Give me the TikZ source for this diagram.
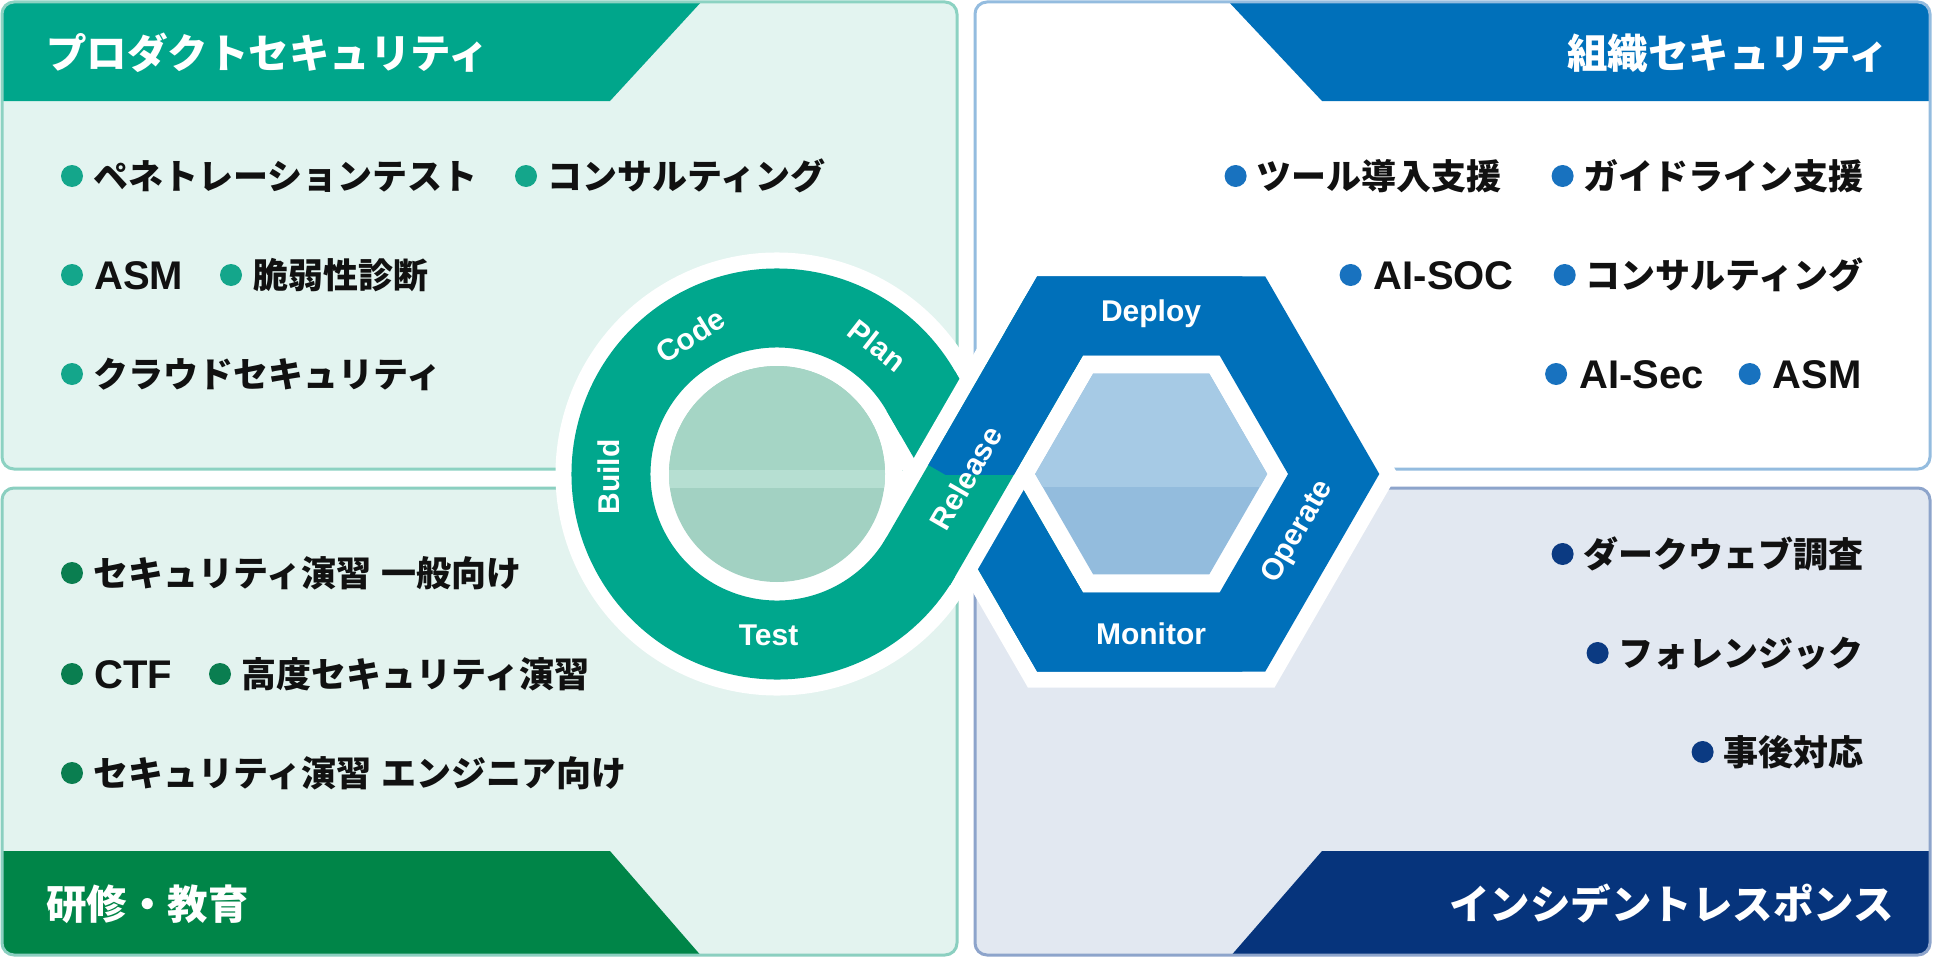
\documentclass[tikz,border=0pt]{standalone}
\usepackage{fontspec}
\setmainfont{Liberation Sans}
\newfontfamily\jp{Noto Sans CJK JP}
\usetikzlibrary{calc}
\definecolor{ringgreen}{HTML}{00A78D}
\definecolor{hexblue}{HTML}{0070BA}
\definecolor{tlhead}{HTML}{00A68B}
\definecolor{trhead}{HTML}{0070BA}
\definecolor{blhead}{HTML}{008548}
\definecolor{brhead}{HTML}{06347C}
\definecolor{tlfill}{HTML}{E3F4F0}
\definecolor{tlborder}{HTML}{8CD2C2}
\definecolor{blfill}{HTML}{E3F3EF}
\definecolor{blborder}{HTML}{8BCFC0}
\definecolor{trborder}{HTML}{94BCDF}
\definecolor{brfill}{HTML}{E2E8F1}
\definecolor{brborder}{HTML}{8DA4CB}
\definecolor{tldot}{HTML}{14A68B}
\definecolor{trdot}{HTML}{1872BF}
\definecolor{bldot}{HTML}{0A7E50}
\definecolor{brdot}{HTML}{0B3A82}
\definecolor{dischi}{HTML}{A5D5C5}
\definecolor{discband}{HTML}{B6DFD2}
\definecolor{disclo}{HTML}{A2D1C2}
\definecolor{hexhi}{HTML}{A6CAE5}
\definecolor{hexlo}{HTML}{93BCDD}
\definecolor{textc}{HTML}{111111}
\begin{document}
\begin{tikzpicture}[x=1pt,y=1pt,line join=miter,
  panelbox/.style={rounded corners=12pt,line width=3pt},
  band/.style={line width=79pt},
  outline/.style={white,line width=111pt},
  lbl/.style={text=white,font=\bfseries\fontsize{30}{30}\selectfont,inner sep=0pt},
  ttl/.style={text=white,font=\jp\bfseries\fontsize{40.5}{40.5}\selectfont,inner sep=0pt},
  jpitem/.style={text=textc,font=\jp\bfseries\fontsize{35}{35}\selectfont,inner sep=0pt},
  enitem/.style={text=textc,font=\bfseries\fontsize{40}{40}\selectfont,inner sep=0pt},
  dot/.style={circle,minimum size=22pt,inner sep=0pt,fill=#1}]
\useasboundingbox (0,0) rectangle (1933,-958);
\fill[white] (0,0) rectangle (1933,-958);

% ---------- panels ----------
% top left
\fill[tlfill,rounded corners=12pt] (2,-2) rectangle (957,-469);
\begin{scope}
  \clip[rounded corners=12pt] (2,-2) rectangle (957,-469);
  \fill[tlhead] (0,0) -- (703,0) -- (610,-101) -- (0,-101) -- cycle;
\end{scope}
\draw[panelbox,draw=tlborder] (2,-2) rectangle (957,-469);
% top right
\fill[white,rounded corners=12pt] (975,-2) rectangle (1930,-469);
\begin{scope}
  \clip[rounded corners=12pt] (975,-2) rectangle (1930,-469);
  \fill[trhead] (1227,0) -- (1933,0) -- (1933,-101) -- (1322,-101) -- cycle;
\end{scope}
\draw[panelbox,draw=trborder] (975,-2) rectangle (1930,-469);
% bottom left
\fill[blfill,rounded corners=12pt] (2,-488) rectangle (957,-955);
\begin{scope}
  \clip[rounded corners=12pt] (2,-488) rectangle (957,-955);
  \fill[blhead] (0,-851) -- (610,-851) -- (703,-958) -- (0,-958) -- cycle;
\end{scope}
\draw[panelbox,draw=blborder] (2,-488) rectangle (957,-955);
% bottom right
\fill[brfill,rounded corners=12pt] (975,-488) rectangle (1930,-955);
\begin{scope}
  \clip[rounded corners=12pt] (975,-488) rectangle (1930,-955);
  \fill[brhead] (1322,-851) -- (1933,-851) -- (1933,-958) -- (1229,-958) -- cycle;
\end{scope}
\draw[panelbox,draw=brborder] (975,-488) rectangle (1930,-955);

% ---------- titles ----------
\node[ttl,anchor=base west] (tTL) at (46,-68.5) {プロダクトセキュリティ};
\node[ttl,anchor=base east] (tTR) at (1889,-68.5) {組織セキュリティ};
\node[ttl,anchor=base west] (tBL) at (46,-919.5) {研修・教育};
\node[ttl,anchor=base east] (tBR) at (1894,-919.5) {インシデントレスポンス};

% ---------- top-left items ----------
\node[jpitem,anchor=base west] (a1) at (93,-189) {ペネトレーションテスト};
\node[dot=tldot] (a1d) at (72,-176) {};
\node[jpitem,anchor=base west] (a2) at (547,-189) {コンサルティング};
\node[dot=tldot] (a2d) at (526,-176) {};
\node[enitem,anchor=base west] (a3) at (94,-289) {ASM};
\node[dot=tldot] (a3d) at (72,-275) {};
\node[jpitem,anchor=base west] (a4) at (253,-288) {脆弱性診断};
\node[dot=tldot] (a4d) at (231,-275) {};
\node[jpitem,anchor=base west] (a5) at (93,-387) {クラウドセキュリティ};
\node[dot=tldot] (a5d) at (72,-374) {};

% ---------- top-right items ----------
\node[jpitem,anchor=base east] (b1) at (1502,-189) {ツール導入支援};
\node[dot=trdot] (b1d) at ($(b1.base west)+(-21,13)$) {};
\node[jpitem,anchor=base east] (b2) at (1864,-189) {ガイドライン支援};
\node[dot=trdot] (b2d) at ($(b2.base west)+(-21,13)$) {};
\node[enitem,anchor=base east] (b3) at (1514,-289) {AI-SOC};
\node[dot=trdot] (b3d) at ($(b3.base west)+(-23,14)$) {};
\node[jpitem,anchor=base east] (b4) at (1864,-288) {コンサルティング};
\node[dot=trdot] (b4d) at ($(b4.base west)+(-21,13)$) {};
\node[enitem,anchor=base east] (b5) at (1704,-388) {AI-Sec};
\node[dot=trdot] (b5d) at ($(b5.base west)+(-23,14)$) {};
\node[enitem,anchor=base east] (b6) at (1862,-388) {ASM};
\node[dot=trdot] (b6d) at ($(b6.base west)+(-23,14)$) {};

% ---------- bottom-left items ----------
\node[jpitem,anchor=base west] (c1) at (93,-586) {セキュリティ演習\hspace{0.3em}一般向け};
\node[dot=bldot] (c1d) at (72,-573) {};
\node[enitem,anchor=base west] (c2) at (94,-688) {CTF};
\node[dot=bldot] (c2d) at (72,-674) {};
\node[jpitem,anchor=base west] (c3) at (241,-687) {高度セキュリティ演習};
\node[dot=bldot] (c3d) at (220,-674) {};
\node[jpitem,anchor=base west] (c4) at (93,-786) {セキュリティ演習\hspace{0.3em}エンジニア向け};
\node[dot=bldot] (c4d) at (72,-773) {};

% ---------- bottom-right items ----------
\node[jpitem,anchor=base east] (d1) at (1864,-567) {ダークウェブ調査};
\node[dot=brdot] (d1d) at ($(d1.base west)+(-21,13)$) {};
\node[jpitem,anchor=base east] (d2) at (1864,-666) {フォレンジック};
\node[dot=brdot] (d2d) at ($(d2.base west)+(-21,13)$) {};
\node[jpitem,anchor=base east] (d3) at (1864,-765) {事後対応};
\node[dot=brdot] (d3d) at ($(d3.base west)+(-21,13)$) {};

% ---------- infinity loop ----------
\coordinate (C) at (777,-474);
\coordinate (H) at (1151.2,-474);
\coordinate (Ttop) at ($(C)+(30:166)$);
\coordinate (Tbot) at ($(C)+(-30:166)$);
\coordinate (VL) at ($(H)+(180:182.5)$);
\coordinate (VTL) at ($(H)+(120:182.5)$);
\coordinate (VTR) at ($(H)+(60:182.5)$);
\coordinate (VR) at ($(H)+(0:182.5)$);
\coordinate (VBR) at ($(H)+(-60:182.5)$);
\coordinate (VBL) at ($(H)+(-120:182.5)$);

% white outline of whole loop
\draw[outline] (Ttop) arc[start angle=30,end angle=330,radius=166pt]
  -- (VTL) -- (VTR) -- (VR) -- (VBR) -- (VBL) -- cycle;
\fill[white] (C) circle[radius=125pt];
\fill[white] ($(H)+(0:135)$) -- ($(H)+(60:135)$) -- ($(H)+(120:135)$)
  -- ($(H)+(180:135)$) -- ($(H)+(240:135)$) -- ($(H)+(300:135)$) -- cycle;

% light disc
\begin{scope}
  \clip (C) circle[radius=108pt];
  \fill[disclo] ($(C)+(-110,110)$) rectangle ($(C)+(110,-110)$);
  \fill[dischi] ($(C)+(-110,110)$) rectangle ($(C)+(110,4)$);
  \fill[discband] ($(C)+(-110,4)$) rectangle ($(C)+(110,-14)$);
\end{scope}
% light hexagon
\begin{scope}
  \clip ($(H)+(0:116)$) -- ($(H)+(60:116)$) -- ($(H)+(120:116)$)
    -- ($(H)+(180:116)$) -- ($(H)+(240:116)$) -- ($(H)+(300:116)$) -- cycle;
  \fill[hexlo] ($(H)+(-120,120)$) rectangle ($(H)+(120,-120)$);
  \fill[hexhi] ($(H)+(-120,120)$) rectangle ($(H)+(120,-13)$);
\end{scope}

% hidden strand (Plan -> Monitor)
\draw[band,ringgreen] (Ttop) -- (VBL);
\begin{scope}
  \clip (700,-474) rectangle (1500,-958);
  \draw[band,hexblue] (Ttop) -- (VBL) -- (VBR);
\end{scope}
% ring, with short overlaps into the straight strands
\draw[band,ringgreen] ($(Ttop)!0.1!(VBL)$) -- (Ttop)
  arc[start angle=30,end angle=330,radius=166pt] -- ($(Tbot)!0.1!(VTL)$);
% hexagon
\draw[band,hexblue] ($(VTL)!0.15!(Tbot)$) -- (VTL) -- (VTR) -- (VR) -- (VBR) -- (VBL) -- ($(VBL)!0.15!(Ttop)$);
% release strand on top
\coordinate (Rend) at ($(Tbot)!0.776!(VTL)$);
\draw[outline] (Tbot) -- (Rend);
\draw[band,ringgreen] ($(Tbot)!-0.035!(VTL)$) -- (VTL);
\begin{scope}
  \clip (700,0) rectangle (1500,-474);
  \draw[band,hexblue] ($(Tbot)!0.3!(VTL)$) -- (VTL) -- (VTR);
\end{scope}

% labels
\node[lbl,rotate=32] (lcode) at ($(C)+(122:163)$) {Code};
\node[lbl,rotate=-38] (lplan) at ($(C)+(52:163)$) {Plan};
\node[lbl,rotate=90] (lbuild) at ($(C)+(181:168)$) {Build};
\node[lbl] (ltest) at ($(C)+(267:162)$) {Test};
\node[lbl,rotate=60] (lrel) at (966,-478) {Release};
\node[lbl] (ldep) at (1151,-314) {Deploy};
\node[lbl] (lmon) at (1151,-634) {Monitor};
\node[lbl,rotate=60] (lop) at (1298,-532) {Operate};
\end{tikzpicture}
\end{document}
